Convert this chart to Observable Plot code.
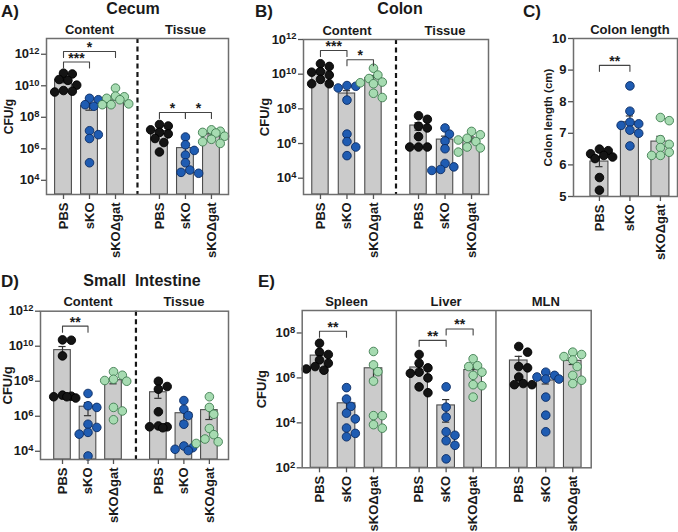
<!DOCTYPE html>
<html><head><meta charset="utf-8">
<script src="https://cdn.jsdelivr.net/npm/d3@7"></script>
<script src="https://cdn.jsdelivr.net/npm/@observablehq/plot@0.6"></script>
<style>
body{margin:0;background:#fff;}
#fig{position:relative;width:678px;height:532px;overflow:hidden;font-family:"Liberation Sans",Arial,Helvetica,sans-serif;font-weight:bold;color:#1a1a1a;background:#fff;}
.panel{position:absolute;}
.t{position:absolute;line-height:1;white-space:pre;}
g[aria-label="stars"] text{letter-spacing:1.5px;}
</style></head><body><div id="fig"></div>
<script>
// ---------- data ----------
const groups = ["PBS", "sKO", "sKOΔgat"];

// A) Cecum (CFU/g)
const cecumSections = ["Content", "Tissue"];
const cecumContent = [
  [6.3e10, 5.6e10, 2.5e10, 2.2e10, 1.1e10, 5.0e9, 4.5e9, 4.0e9],
  [1.6e9, 1.3e9, 6.3e8, 5.0e8, 1.4e7, 7.9e6, 4.5e6, 1.3e5],
  [7.1e9, 2.2e9, 2.0e9, 1.6e9, 1.3e9, 7.1e8, 6.3e8, 6.3e8]
];
const cecumTissue = [
  [3.5e7, 2.8e7, 1.6e7, 1.1e7, 8.9e6, 4.5e6, 2.5e6, 6.3e5],
  [5.6e6, 1.8e6, 7.9e5, 4.0e5, 1.3e5, 4.5e4, 3.2e4, 2.8e4],
  [1.6e7, 1.3e7, 1.1e7, 1.0e7, 6.3e6, 4.0e6, 2.8e6, 2.2e6]
];
const cecumBrackets = [
  {s: 0, a: 0, b: 1, y: 3.2e11, label: "***"},
  {s: 0, a: 0, b: 2, y: 1.5e12, label: "*"},
  {s: 1, a: 0, b: 1, y: 2.0e8, label: "*"},
  {s: 1, a: 1, b: 2, y: 2.0e8, label: "*"}
];

// B) Colon (CFU/g)
const colonSections = ["Content", "Tissue"];
const colonContent = [
  [4.0e10, 2.8e10, 1.4e10, 1.3e10, 8.9e9, 5.0e9, 2.8e9, 2.8e9],
  [2.2e9, 2.0e9, 1.6e9, 3.2e8, 3.5e6, 1.3e6, 6.3e5, 2.0e5],
  [2.2e10, 8.9e9, 5.6e9, 3.5e9, 3.2e9, 2.8e9, 7.9e8, 4.5e8]
];
const colonTissue = [
  [4.0e7, 2.5e7, 1.0e7, 7.9e6, 2.5e6, 6.3e5, 6.3e5, 6.3e5],
  [7.9e6, 3.5e6, 1.4e6, 5.0e5, 7.1e4, 4.5e4, 3.2e4, 2.8e4],
  [5.0e6, 3.2e6, 2.0e6, 1.6e6, 1.3e6, 6.3e5, 5.6e5, 3.2e5]
];
const colonBrackets = [
  {s: 0, a: 0, b: 1, y: 2.3e11, label: "***"},
  {s: 0, a: 1, b: 2, y: 6.8e10, label: "*"}
];

// C) Colon length (cm)
const lengthSections = ["Colon length"];
const colonLength = [
  [6.5, 6.45, 6.35, 6.3, 6.25, 6.2, 5.6, 5.2],
  [8.5, 7.7, 7.35, 7.3, 7.25, 7.1, 7.0, 6.6],
  [7.5, 7.4, 6.8, 6.65, 6.55, 6.4, 6.3, 6.3]
];
const lengthBrackets = [{s: 0, a: 0, b: 1, y: 9.15, label: "**"}];

// D) Small intestine (CFU/g)
const siSections = ["Content", "Tissue"];
const siContent = [
  [2.3e10, 2.2e10, 2.8e9, 1.6e7, 1.4e7, 1.3e7, 1.3e7, 1.1e7],
  [2.0e7, 4.0e6, 3.2e6, 3.5e5, 2.3e5, 1.2e5, 9.5e4, 5.4e3],
  [3.5e8, 2.2e8, 1.3e8, 1.1e8, 1.0e8, 3.2e6, 2.0e6, 6.3e5]
];
const siTissue = [
  [1.0e8, 5.0e7, 3.5e7, 1.8e6, 2.8e5, 2.5e5, 2.5e5, 2.2e5],
  [7.9e6, 2.5e6, 1.1e6, 3.5e5, 2.0e4, 1.6e4, 1.3e4, 1.1e4],
  [1.3e7, 3.2e6, 1.3e6, 2.0e5, 8.9e4, 5.0e4, 3.5e4, 2.8e4]
];
const siBrackets = [{s: 0, a: 0, b: 1, y: 1.4e11, label: "**"}];

// E) Systemic organs (CFU/g)
const organSections = ["Spleen", "Liver", "MLN"];
const spleen = [
  [3.5e7, 1.4e7, 1.1e7, 6.3e6, 4.5e6, 3.2e6, 2.5e6, 2.2e6],
  [3.7e5, 1.15e5, 5.4e4, 2.7e4, 1.5e4, 5.9e3, 3.4e3, 2.4e3],
  [1.5e7, 3.8e6, 1.9e6, 7.2e5, 2.1e4, 2.1e4, 8.3e3, 5.8e3]
];
const liver = [
  [1.1e7, 4.5e6, 2.8e6, 1.8e6, 1.6e6, 1.0e6, 4.0e5, 2.2e5],
  [4.0e5, 5.0e4, 1.8e4, 4.0e3, 2.8e3, 1.6e3, 1.0e3, 2.5e2],
  [7.1e6, 3.5e6, 3.2e6, 1.8e6, 1.3e6, 5.0e5, 4.5e5, 1.4e5]
];
const mln = [
  [2.5e7, 1.4e7, 3.2e6, 2.8e6, 1.1e6, 5.6e5, 5.0e5, 5.0e5],
  [1.8e6, 1.3e6, 1.1e6, 8.9e5, 8.9e5, 1.4e5, 2.2e4, 4.0e3],
  [1.4e7, 1.1e7, 8.9e6, 6.3e6, 3.2e6, 1.3e6, 7.9e5, 5.6e5]
];
const organBrackets = [
  {s: 0, a: 0, b: 1, y: 1.2e8, label: "**"},
  {s: 1, a: 0, b: 1, y: 4.7e7, label: "**"},
  {s: 1, a: 1, b: 2, y: 1.5e8, label: "**"}
];

const logTicks = [1e4, 1e6, 1e8, 1e10, 1e12];
const organTicks = [1e2, 1e4, 1e6, 1e8];
const lengthTicks = [5, 6, 7, 8, 9, 10];

// ---------- styling ----------
const FONT = '"Liberation Sans", Arial, Helvetica, sans-serif';
const dotFill = ["#141414", "#1f5cb2", "#a6dbb1"];
const dotStroke = ["#000000", "#0c2c63", "#3f7d50"];
const fig = document.getElementById("fig");

function addTitle(txt, x, baseline, size, center) {
  const d = document.createElement("div");
  d.className = "t";
  d.textContent = txt;
  d.style.fontSize = size + "px";
  d.style.top = (baseline - 0.85 * size) + "px";
  d.style.left = x + "px";
  if (center) d.style.transform = "translateX(-50%)";
  fig.appendChild(d);
}

function swarm(vals, ypx) {
  const S = 4.4, D = 7.4;
  const items = vals.map((v, i) => ({i, py: ypx(v)})).sort((a, b) => b.py - a.py);
  const placed = [], off = [];
  for (const it of items) {
    let chosen = null, bestMin = -1, bestX = 0;
    for (const k of [0, 1, -1, 2, -2, 3, -3]) {
      const ox = k * S;
      let mind = Infinity;
      for (const q of placed) mind = Math.min(mind, Math.hypot(q.x - ox, q.y - it.py));
      if (mind >= D) { chosen = ox; break; }
      if (mind > bestMin) { bestMin = mind; bestX = ox; }
    }
    if (chosen === null) chosen = bestX;
    placed.push({x: chosen, y: it.py});
    off[it.i] = chosen;
  }
  return off;
}

function drawPanel(p) {
  const W = p.width, H = p.height, m = p.margin;
  const pw = W - m.left - m.right, ph = H - m.top - m.bottom;
  const kx = pw / (p.xDomain[1] - p.xDomain[0]);
  const isLog = p.yType === "log";
  const f = isLog ? Math.log10 : (v => v);
  const f0 = f(p.yDomain[0]), f1 = f(p.yDomain[1]);
  const ky = ph / (f1 - f0);
  const ypx = v => (f(v) - f0) * ky;
  const shiftDown = (v, px) => isLog ? v / Math.pow(10, px / ky) : v - px / ky;
  const pos = (s, g) => s * p.stride + g;

  const dots = [], bars = [], errs = [], caps = [], tickPos = [], tickLab = new Map();
  const hw = p.barHalf / kx, cw = 3.6 / kx;
  p.sections.forEach((sec, s) => {
    groups.forEach((g, gi) => {
      const vals = p.data[s][gi];
      const cx = pos(s, gi);
      tickPos.push(cx); tickLab.set(cx, g);
      const mean = d3.mean(vals);
      const sem = d3.deviation(vals) / Math.sqrt(vals.length);
      const lo = Math.max(mean - sem, p.yDomain[0]), hi = mean + sem;
      bars.push({x1: cx - hw, x2: cx + hw, y1: p.yDomain[0], y2: mean});
      errs.push({x: cx, lo, hi});
      caps.push({x1: cx - cw, x2: cx + cw, y: hi});
      if (mean - sem > p.yDomain[0]) caps.push({x1: cx - cw, x2: cx + cw, y: lo});
      const off = swarm(vals, ypx);
      vals.forEach((v, i) => dots.push({x: cx + off[i] / kx, y: v, g: gi}));
    });
  });

  const headers = p.sections.map((sec, s) => ({x: pos(s, 1), label: sec}));
  const dividers = p.sections.slice(1).map((sec, s) => (pos(s, 2) + pos(s + 1, 0)) / 2);

  const bracketPts = [], bracketLab = [];
  p.brackets.forEach((b, i) => {
    const xa = pos(b.s, b.a), xb = pos(b.s, b.b), yl = shiftDown(b.y, 6);
    bracketPts.push({id: i, x: xa, y: yl}, {id: i, x: xa, y: b.y}, {id: i, x: xb, y: b.y}, {id: i, x: xb, y: yl});
    bracketLab.push({x: (xa + xb) / 2, y: b.y, label: b.label});
  });

  const dividerMark = p.divider === "dashed"
    ? Plot.ruleX(dividers, {stroke: "#161616", strokeWidth: 2.2, strokeDasharray: "5,3.5"})
    : Plot.ruleX(dividers, {stroke: "#6e6e6e", strokeWidth: 1.5});

  const plot = Plot.plot({
    width: W, height: H,
    marginTop: m.top, marginRight: m.right, marginBottom: m.bottom, marginLeft: m.left,
    x: {type: "linear", domain: p.xDomain},
    y: {type: p.yType, domain: p.yDomain},
    style: {fontFamily: FONT, fontWeight: "bold", fontSize: "13px", color: "#1a1a1a", background: "transparent", overflow: "visible"},
    marks: [
      Plot.rect(bars, {x1: "x1", x2: "x2", y1: "y1", y2: "y2", fill: "#cbcbcb", stroke: "#4d4d4d", strokeWidth: 1.1}),
      Plot.ruleX(errs, {x: "x", y1: "lo", y2: "hi", stroke: "#333", strokeWidth: 1.2}),
      Plot.ruleY(caps, {y: "y", x1: "x1", x2: "x2", stroke: "#333", strokeWidth: 1.2}),
      ...groups.map((g, gi) => Plot.dot(dots.filter(d => d.g === gi), {x: "x", y: "y", r: 4.3, fill: dotFill[gi], stroke: dotStroke[gi], strokeWidth: 0.9})),
      dividerMark,
      Plot.frame({stroke: "#6e6e6e", strokeWidth: 1.5}),
      Plot.axisY({ticks: p.yTicks, tickFormat: isLog ? (d => "10^" + Math.round(Math.log10(d))) : (d => String(d)),
        tickSize: 5, tickPadding: 2, stroke: "#555", strokeWidth: 1.3, fontSize: 13, label: null}),
      Plot.axisX({ticks: tickPos, tickFormat: d => tickLab.get(d), tickRotate: -90, textAnchor: "end", lineAnchor: "middle",
        tickSize: 5, tickPadding: 3, stroke: "#555", strokeWidth: 1.3, fontSize: 13, label: null}),
      Plot.line(bracketPts, {x: "x", y: "y", z: "id", stroke: "#444", strokeWidth: 1.1}),
      Plot.text(bracketLab, {x: "x", y: "y", text: "label", dy: -4, lineAnchor: "middle", fontSize: 14, ariaLabel: "stars"}),
      Plot.text(headers, {x: "x", text: "label", frameAnchor: "top", dy: -5, lineAnchor: "bottom", fontSize: 13}),
      Plot.text([p.yLabel], {text: d => d, frameAnchor: "left", rotate: -90, dx: -p.yLabelDx, fontSize: p.yLabelSize,
        textAnchor: "middle", lineAnchor: "middle"})
    ]
  });

  // superscript exponents on log tick labels
  d3.select(plot).selectAll('[aria-label="y-axis tick label"] text').each(function () {
    const mm = /^10\^(\d+)$/.exec(this.textContent);
    if (!mm) return;
    const t = d3.select(this);
    t.text(null);
    t.append("tspan").text("10");
    t.append("tspan").attr("dy", "-0.45em").attr("font-size", "0.72em").text(mm[1]);
  });

  const div = document.createElement("div");
  div.className = "panel";
  div.style.left = p.left + "px";
  div.style.top = p.top + "px";
  div.style.width = W + "px";
  div.style.height = H + "px";
  div.appendChild(plot);
  fig.appendChild(div);
}

const panels = [
  {left: 0, top: 0, width: 236, height: 262, margin: {top: 38, right: 8, bottom: 68, left: 46},
   sections: cecumSections, data: [cecumContent, cecumTissue], stride: 3.69, xDomain: [-0.654, 6.346],
   yType: "log", yDomain: [Math.pow(10, 3.1), 1e13], yTicks: logTicks, brackets: cecumBrackets,
   divider: "dashed", barHalf: 8.4, yLabel: "CFU/g", yLabelSize: 12, yLabelDx: 37},
  {left: 236, top: 0, width: 256, height: 262, margin: {top: 39, right: 4, bottom: 68, left: 67},
   sections: colonSections, data: [colonContent, colonTissue], stride: 3.7, xDomain: [-0.64, 6.34],
   yType: "log", yDomain: [Math.pow(10, 3.06), 1e12], yTicks: logTicks, brackets: colonBrackets,
   divider: "dashed", barHalf: 8.2, yLabel: "CFU/g", yLabelSize: 13, yLabelDx: 39},
  {left: 498, top: 0, width: 180, height: 262, margin: {top: 38, right: 1, bottom: 66, left: 75},
   sections: lengthSections, data: [colonLength], stride: 3, xDomain: [-0.85, 2.56],
   yType: "linear", yDomain: [5, 10], yTicks: lengthTicks, brackets: lengthBrackets,
   divider: "none", barHalf: 9, yLabel: "Colon length (cm)", yLabelSize: 11.5, yLabelDx: 25},
  {left: 0, top: 262, width: 238, height: 270, margin: {top: 48.7, right: 10, bottom: 73, left: 40},
   sections: siSections, data: [siContent, siTissue], stride: 3.76, xDomain: [-0.863, 6.51],
   yType: "log", yDomain: [Math.pow(10, 3.53), 1e12], yTicks: logTicks, brackets: siBrackets,
   divider: "dashed", barHalf: 8.3, yLabel: "CFU/g", yLabelSize: 13, yLabelDx: 33},
  {left: 250, top: 262, width: 428, height: 270, margin: {top: 48, right: 87.3, bottom: 64.7, left: 51.7},
   sections: organSections, data: [spleen, liver, mln], stride: 3.69, xDomain: [-0.641, 10.063],
   yType: "log", yDomain: [1e2, 1e9], yTicks: organTicks, brackets: organBrackets,
   divider: "solid", barHalf: 8.8, yLabel: "CFU/g", yLabelSize: 13, yLabelDx: 40}
];

panels.forEach(drawPanel);

addTitle("A)", 1, 17, 17, false);
addTitle("Cecum", 133, 15, 16, true);
addTitle("B)", 255, 17, 17, false);
addTitle("Colon", 400, 15, 16, true);
addTitle("C)", 523, 17, 17, false);
addTitle("D)", 1, 287, 17, false);
addTitle("Small  Intestine", 142, 287, 16, true);
addTitle("E)", 258, 287, 17, false);
</script></body></html>
